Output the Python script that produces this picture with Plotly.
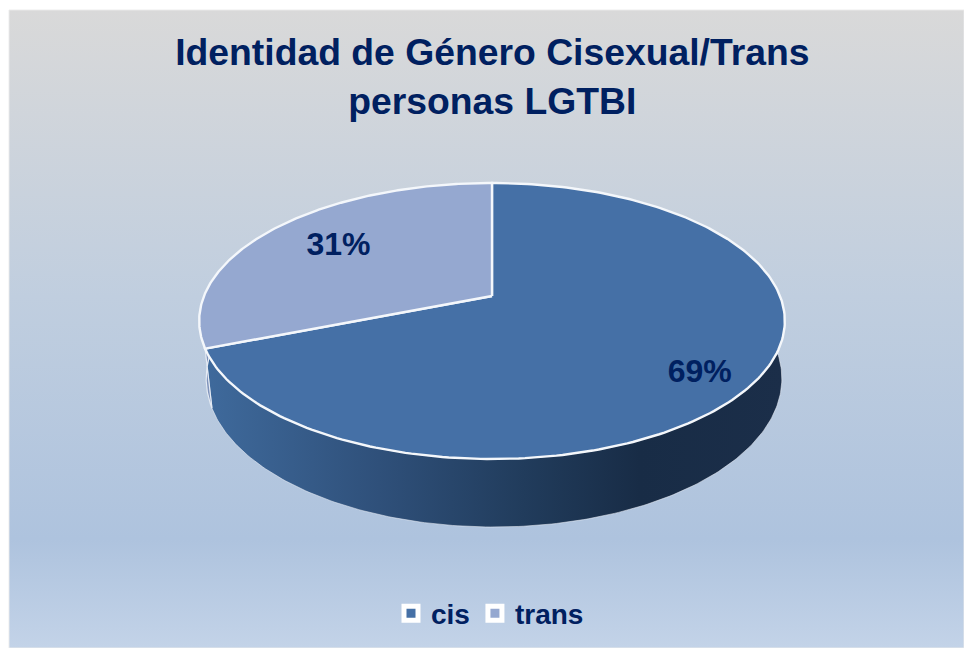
import numpy as np
import plotly.graph_objects as go

categories = ["cis", "trans"]
values = [69, 31]
face_colors = ["#4570A6", "#95A8D0"]
title_text = "Identidad de Género Cisexual/Trans<br>personas LGTBI"
ink = "#002060"

W, H = 964, 648
CX, CY = 492, 296      # projected pie centre
BX, AY, C = 288, 133.5, 0.181  # perspective projection
DEPTH, BASE_SCALE, BASE_SHIFT = 55.7, 0.983, 2
LABEL_DY = 3


def project(theta_deg, r=1.0, base=False):
    t = np.radians(np.asarray(theta_deg, dtype=float))
    x, y = r * np.sin(t), r * np.cos(t)
    d = 1 + C * y
    k = BASE_SCALE if base else 1.0
    shift = BASE_SHIFT if base else 0
    return CX + shift + k * BX * x / d, CY - AY * y / d + (DEPTH / d if base else 0)


def arc(a, b, n=240):
    return np.linspace(a, b, n)


total = sum(values)
angles = np.cumsum([0] + [v / total * 360 for v in values])
fig = go.Figure()

# chart-area background
fig.add_trace(go.Scatter(
    x=[9, W, W, 9, 9], y=[10, 10, H, H, 10], mode="lines", fill="toself",
    line=dict(color="rgba(235,235,235,0.9)", width=1), hoverinfo="skip", showlegend=False,
    fillgradient=dict(type="vertical", colorscale=[
        [0, "#C3D3E8"], [0.17, "#AEC3DE"], [0.55, "#C0CEDF"], [1, "#D9D9D9"]])))

# side wall of "cis"
a0, a1 = angles[0], angles[1]
tx, ty = project(arc(60, a1))
bx, by = project(arc(a1, 60), base=True)
fig.add_trace(go.Scatter(
    x=np.r_[tx, bx, tx[0]], y=np.r_[ty, by, ty[0]], mode="lines", fill="toself",
    line=dict(color="rgba(236,241,248,0.55)", width=1), hoverinfo="skip", showlegend=False,
    fillgradient=dict(type="horizontal", colorscale=[
        [0, "#3F6A9C"], [0.3, "#2F507A"], [0.55, "#213C5C"], [0.75, "#182C46"], [1, "#1B2E49"]])))
# side wall sliver of "trans"
tx, ty = project(arc(a1, 272))
bx, by = project(arc(272, a1), base=True)
fig.add_trace(go.Scatter(
    x=np.r_[tx, bx, tx[0]], y=np.r_[ty, by, ty[0]], mode="lines", fill="toself",
    fillcolor="#7F93BB", line=dict(color="#E4EAF3", width=1.2),
    hoverinfo="skip", showlegend=False))

# top faces
for i, cat in enumerate(categories):
    fx, fy = project(arc(angles[i], angles[i + 1]))
    fig.add_trace(go.Scatter(
        x=np.r_[CX, fx, CX], y=np.r_[CY, fy, CY], mode="lines", fill="toself",
        fillcolor=face_colors[i], line=dict(color="#F4F7FB", width=2.4),
        hoverinfo="skip", showlegend=False))

# percentage labels
mids = (angles[:-1] + angles[1:]) / 2
lx, ly = project(mids + np.array([3.7, 1.9]), r=np.array([0.83, 0.71]))
fig.add_trace(go.Scatter(
    x=lx, y=ly + LABEL_DY, mode="text",
    text=[f"{round(v / total * 100)}%" for v in values],
    textfont=dict(family="Liberation Sans", size=32, color=ink, weight="bold"),
    hoverinfo="skip", showlegend=False))

# legend entries
for cat, col in zip(categories, face_colors):
    fig.add_trace(go.Scatter(
        x=[None], y=[None], mode="markers", name=cat,
        marker=dict(symbol="square", size=14, color=col, line=dict(color="white", width=5))))

fig.update_layout(
    width=W, height=H, margin=dict(l=0, r=0, t=0, b=0),
    paper_bgcolor="white", plot_bgcolor="rgba(0,0,0,0)",
    xaxis=dict(range=[0, W], visible=False, fixedrange=True),
    yaxis=dict(range=[H, 0], visible=False, fixedrange=True),
    title=dict(text=title_text, x=0.5107, xanchor="center", y=0.899, yanchor="middle",
               font=dict(family="Liberation Sans", size=37.3, color=ink, weight="bold")),
    legend=dict(orientation="h", x=0.5083, xanchor="center", y=0.053, yanchor="middle",
                bgcolor="rgba(0,0,0,0)", itemwidth=30, tracegroupgap=0,
                font=dict(family="Liberation Sans", size=28, color=ink, weight="bold")),
)
fig.write_html("out.html", config=dict(displayModeBar=False),
               post_script="document.body.style.margin='0';")
